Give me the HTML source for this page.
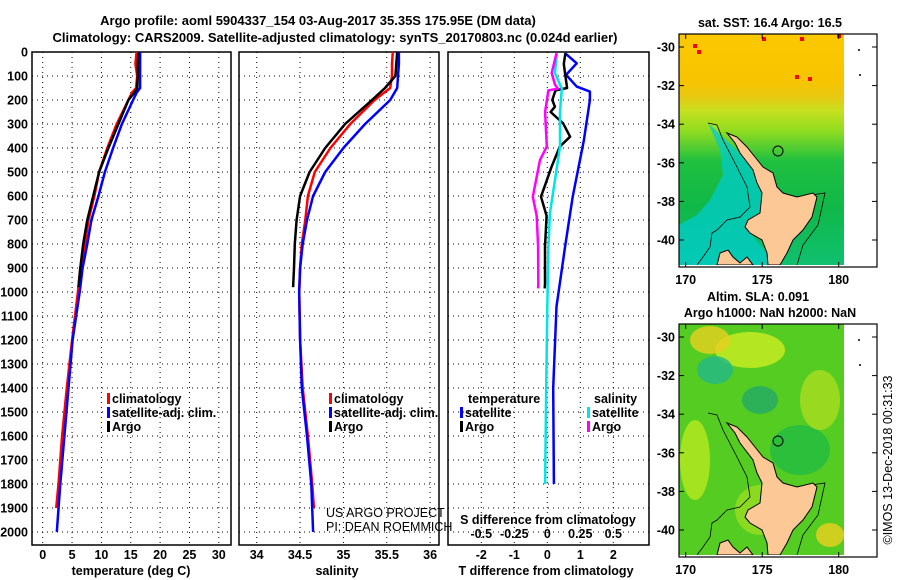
<!DOCTYPE html>
<html><head><meta charset="utf-8"><style>
html,body{margin:0;padding:0;background:#fff;}
svg{display:block;font-family:"Liberation Sans",sans-serif;}
.t{font-weight:bold;font-size:13px;fill:#000;}
.tk{font-weight:bold;font-size:12.5px;fill:#000;}
.pl{font-weight:normal;font-size:12.5px;fill:#000;}
</style></head><body>
<svg id="c" width="900" height="580" viewBox="0 0 900 580" xmlns="http://www.w3.org/2000/svg">
<text class="t" x="318" y="25" text-anchor="middle" font-size="14">Argo profile: aoml 5904337_154 03-Aug-2017 35.35S 175.95E (DM data)</text>
<text class="t" x="335" y="42" text-anchor="middle" font-size="14">Climatology: CARS2009. Satellite-adjusted climatology: synTS_20170803.nc (0.024d earlier)</text>
<g id="g"></g>
</svg>
<script>
// depth ticks
const depthTicks=[0,100,200,300,400,500,600,700,800,900,1000,1100,1200,1300,1400,1500,1600,1700,1800,1900,2000];
const tempTicks=[0,5,10,15,20,25,30];
const salTicks=[34,34.5,35,35.5,36];
const tdiffTicks=[-2,-1,0,1,2];
const sdiffTicks=[-0.5,-0.25,0,0.25,0.5];
const sdiffLabels=["-0.5","-0.25","0","0.25","0.5"];
// temperature profiles
const tClimDepth=[0,50,100,150,170,200,300,400,500,600,700,800,900,1000,1200,1400,1600,1800,1900];
const tClimVal=[16.0,15.8,16.1,15.9,15.2,14.6,12.6,11.0,9.6,8.8,7.8,7.2,6.4,6.0,5.0,4.1,3.3,2.7,2.3];
const tSatDepth=[0,50,100,150,170,200,300,400,500,600,700,800,900,1000,1200,1400,1600,1800,2000];
const tSatVal=[16.6,16.6,16.6,16.6,16.0,15.4,13.5,12.0,10.6,9.5,8.3,7.6,6.8,6.3,5.1,4.4,3.7,3.0,2.4];
const tArgoDepth=[0,50,100,150,170,200,300,400,500,600,700,800,900,980];
const tArgoVal=[16.3,16.2,16.2,16.1,15.6,14.6,12.9,11.2,9.6,8.6,7.6,6.9,6.4,6.1];
// salinity profiles
const sClimDepth=[0,50,100,150,200,300,400,500,600,700,800,900,1000,1200,1400,1600,1800,1900];
const sClimVal=[35.57,35.56,35.56,35.54,35.36,35.08,34.85,34.67,34.59,34.56,34.52,34.50,34.49,34.50,34.53,34.59,34.64,34.66];
const sSatDepth=[0,50,100,150,200,300,400,500,600,700,800,900,1000,1200,1400,1600,1800,2000];
const sSatVal=[35.64,35.64,35.63,35.62,35.54,35.25,35.00,34.79,34.65,34.58,34.53,34.50,34.49,34.50,34.52,34.58,34.63,34.65];
const sArgoDepth=[0,50,100,150,200,300,400,500,600,700,800,900,980];
const sArgoVal=[35.62,35.61,35.60,35.48,35.33,35.02,34.79,34.61,34.50,34.46,34.44,34.43,34.42];
// difference profiles
const dTSatDepth=[5,47,95,144,165,200,367,603,811,1061,1400,1800];
const dTSatVal=[0.54,0.89,0.57,0.89,1.29,1.29,1.11,0.77,0.54,0.28,0.18,0.2];
const dTArgoDepth=[5,50,100,150,160,200,228,250,297,353,394,478,603,683,811,964,985];
const dTArgoVal=[0.55,0.5,0.55,0.6,0.25,0.15,0.23,0.1,0.48,0.69,0.38,0.13,-0.19,-0.02,-0.07,-0.07,-0.08];
const dSSatDepth=[5,88,153,250,394,533,672,811,1061,1400,1800];
const dSSatVal=[0.071,0.058,0.11,0.096,0.096,0.058,0.02,0.008,0,-0.008,-0.017];
const dSArgoDepth=[5,88,136,153,160,250,394,450,603,683,811,964,985];
const dSArgoVal=[0.07,0.033,0.058,0.08,0.008,-0.017,-0.004,-0.055,-0.11,-0.08,-0.07,-0.068,-0.07];

const NS="http://www.w3.org/2000/svg";
const G=document.getElementById('g');
function mk(tag,attrs,parent){const e=document.createElementNS(NS,tag);for(const k in attrs)e.setAttribute(k,attrs[k]);(parent||G).appendChild(e);return e;}
function txt(x,y,s,cls,anchor,parent){const e=mk('text',{x:x,y:y,class:cls||'tk','text-anchor':anchor||'start'},parent);e.textContent=s;return e;}
const TOP=52,BOT=545;
function yD(d){return TOP+d*0.24;}
const P1={x0:32,x1:231,f:v=>42.7+v*5.87};
const P2={x0:239,x1:439,f:v=>256.7+(v-34)*86.7};
const P3={x0:448,x1:649,f:v=>547.3+v*33};
const sDiffX=v=>547.3+v*132;

depthTicks.forEach(d=>{
  const t=txt(28,yD(d)+4.5,String(d),'tk','end');
  
  
});
function panel(P,ticks,labels,name){
  const g=mk('g',{});
  
  
  depthTicks.forEach(d=>{
    const l=mk('line',{x1:P.x0,x2:P.x1,y1:yD(d),y2:yD(d),stroke:'#000','stroke-width':1,'stroke-dasharray':'1,4'},g);
    
    
  });
  ticks.forEach((v,i)=>{
    const x=P.f(v);
    const l=mk('line',{x1:x,x2:x,y1:TOP,y2:BOT,stroke:'#000','stroke-width':1,'stroke-dasharray':'1,4'},g);
    
    
    const t=txt(x,559,labels[i],'tk','middle',g);
    
    
  });
  const r=mk('rect',{x:P.x0,y:TOP,width:P.x1-P.x0,height:BOT-TOP,fill:'none',stroke:'#000','stroke-width':1.5},g);
  
  
  return g;
}
const g1=panel(P1,tempTicks,tempTicks.map(String),'temperature-panel');
const g2=panel(P2,salTicks,salTicks.map(String),'salinity-panel');
const g3=panel(P3,tdiffTicks,tdiffTicks.map(String),'difference-panel');
sdiffTicks.forEach((v,i)=>{
  const t=txt(sDiffX(v),538,sdiffLabels[i],'tk','middle',g3);
  
  
});
let e;
e=txt(548,524,'S difference from climatology','tk','middle',g3);
e=txt(131,575,'temperature (deg C)','tk','middle',g1);
e=txt(337,575,'salinity','tk','middle',g2);
e=txt(546,575,'T difference from climatology','tk','middle',g3);

function line(depths,vals,fx,color,g,name,w){
  const pts=depths.map((d,i)=>fx(vals[i]).toFixed(1)+','+yD(d).toFixed(1)).join(' ');
  const p=mk('polyline',{points:pts,fill:'none',stroke:color,'stroke-width':w||2.5,'stroke-linejoin':'round'},g);
  
  
}
line(tClimDepth,tClimVal,P1.f,'#ff0000',g1,'temp-climatology-line');
line(tSatDepth,tSatVal,P1.f,'#0000ff',g1,'temp-satellite-line');
line(tArgoDepth,tArgoVal,P1.f,'#000000',g1,'temp-argo-line');
line(sClimDepth,sClimVal,P2.f,'#ff0000',g2,'sal-climatology-line');
line(sSatDepth,sSatVal,P2.f,'#0000ff',g2,'sal-satellite-line');
line(sArgoDepth,sArgoVal,P2.f,'#000000',g2,'sal-argo-line');
line(dTSatDepth,dTSatVal,P3.f,'#0000ff',g3,'tdiff-satellite-line');
line(dTArgoDepth,dTArgoVal,P3.f,'#000000',g3,'tdiff-argo-line');
line(dSSatDepth,dSSatVal,sDiffX,'#00e5e5',g3,'sdiff-satellite-line');
line(dSArgoDepth,dSArgoVal,sDiffX,'#ff00ff',g3,'sdiff-argo-line');

function legend(x,y,color,label,g,name){
  const r=mk('rect',{x:x,y:y-10,width:3,height:11,fill:color},g);
  
  
  const t=txt(x+5,y,label,'tk','start',g);
  
  
}
legend(107,403,'#ff0000','climatology',g1,'legend-climatology');
legend(107,417,'#0000ff','satellite-adj. clim.',g1,'legend-satellite');
legend(107,431,'#000000','Argo',g1,'legend-argo');
legend(329,403,'#ff0000','climatology',g2,'legend-climatology');
legend(329,417,'#0000ff','satellite-adj. clim.',g2,'legend-satellite');
legend(329,431,'#000000','Argo',g2,'legend-argo');
e=txt(468,403,'temperature','tk','start',g3);
legend(460,417,'#0000ff','satellite',g3,'legend-t-satellite');
legend(460,431,'#000000','Argo',g3,'legend-t-argo');
e=txt(594,403,'salinity','tk','start',g3);
legend(587,417,'#00e5e5','satellite',g3,'legend-s-satellite');
legend(587,431,'#ff00ff','Argo',g3,'legend-s-argo');
const credit=mk('g',{});


txt(326,517,'US ARGO PROJECT','pl','start',credit);
txt(326,531,'PI: DEAN ROEMMICH','pl','start',credit);

// maps
const latTicks=[-30,-32,-34,-36,-38,-40];
const lonTicks=[170,175,180];
const landN=[[727,133],[737,137],[747,147],[755,157],[763,167],[773,173],[777,187],[783,193],[797,197],[813,193],[817,197],[812,217],[803,230],[793,240],[787,253],[780,265],[768,265],[767,253],[762,240],[750,233],[745,227],[748,220],[760,213],[762,193],[757,183],[753,170],[740,153],[735,143]];
const landS=[[717,265],[720,253],[728,250],[733,257],[740,263],[747,257],[753,265]];
const shelfW=[[708,123],[717,125],[723,140],[737,167],[747,187],[750,207],[740,217],[727,220],[717,230],[712,233],[710,247],[703,257],[697,265]];
const shelfE=[[797,197],[825,193],[818,225],[803,245],[797,265]];
function pts(a,dy){return a.map(p=>p[0]+','+(p[1]+dy)).join(' ');}
function map(dy,name,bands){
  const g=mk('g',{});
  
  
  const lonX=v=>685.7+(v-170)*15.3;
  const latY=v=>47+dy+(-30-v)*19.3;
  bands(g,dy);
  const cl=mk('clipPath',{id:'clip'+dy},g);
  mk('rect',{x:679,y:34+dy,width:165,height:231},cl);
  const lg=mk('g',{'clip-path':'url(#clip'+dy+')'},g);
  mk('polyline',{points:pts(shelfW,dy),fill:'none',stroke:'#000','stroke-width':0.8},lg);
  mk('polyline',{points:pts(shelfE,dy),fill:'none',stroke:'#000','stroke-width':0.8},lg);
  const lp=mk('polygon',{points:pts(landN,dy),fill:'#fcc896',stroke:'#000','stroke-width':1},lg);
  
  
  const ls=mk('polygon',{points:pts(landS,dy),fill:'#fcc896',stroke:'#000','stroke-width':1},lg);
  
  
  const c=mk('circle',{cx:778,cy:151+dy,r:5,fill:'none',stroke:'#000','stroke-width':1},g);
  
  
  mk('circle',{cx:859,cy:50+dy,r:1,fill:'#000'},g);
  mk('circle',{cx:860,cy:75+dy,r:1,fill:'#000'},g);
  const r=mk('rect',{x:679,y:34+dy,width:198,height:233,fill:'none',stroke:'#000','stroke-width':1.2},g);
  
  
  latTicks.forEach(v=>{
    const y=latY(v);
    mk('line',{x1:679,x2:684,y1:y,y2:y,stroke:'#000'},g);
    mk('line',{x1:872,x2:877,y1:y,y2:y,stroke:'#000'},g);
    const t=txt(675,y+4.5,String(v),'tk','end',g);
    
    
  });
  lonTicks.forEach(v=>{
    const x=lonX(v);
    mk('line',{x1:x,x2:x,y1:262+dy,y2:267+dy,stroke:'#000'},g);
    mk('line',{x1:x,x2:x,y1:34+dy,y2:39+dy,stroke:'#000'},g);
    const t=txt(x,284+dy,String(v),'tk','middle',g);
    
    
  });
}
map(0,'sst-map',(g,dy)=>{
  const d=mk('defs',{},g);
  const lg=mk('linearGradient',{id:'sstg',x1:0,y1:0,x2:0,y2:1},d);
  [[0,'#fcc800'],[0.2,'#f8c400'],[0.27,'#e8c810'],[0.33,'#c8e020'],[0.42,'#90dc20'],[0.55,'#20c040'],[0.75,'#10b848'],[1,'#10c070']].forEach(s=>mk('stop',{offset:s[0],'stop-color':s[1]},lg));
  mk('rect',{x:679,y:34+dy,width:165,height:231,fill:'url(#sstg)'},g);
  mk('polygon',{points:pts([[708,123],[740,153],[753,170],[762,193],[760,213],[750,233],[767,253],[768,265],[679,265],[679,225],[697,215],[710,200],[723,175],[720,150]],dy),fill:'#00cccc',opacity:0.75},g);
  [[693,44],[697,50],[762,37],[800,37],[837,34],[808,77],[795,75]].forEach(p=>mk('rect',{x:p[0],y:p[1]+dy,width:4,height:4,fill:'#ff0000'},g));
});
map(290,'sla-map',(g,dy)=>{
  mk('rect',{x:679,y:34+dy,width:165,height:231,fill:'#55cc22'},g);
  [[750,60,35,18,'#ccee22'],[710,50,20,14,'#e8d020'],[715,80,18,14,'#22b888'],[760,110,18,14,'#22aa66'],[830,245,14,12,'#eed020'],[695,170,15,40,'#b8e820'],[800,160,30,25,'#22bb44'],[820,110,20,30,'#aadd22'],[760,220,25,25,'#99dd22']].forEach(b=>mk('ellipse',{cx:b[0],cy:b[1]+dy,rx:b[2],ry:b[3],fill:b[4],opacity:0.8},g));
  mk('rect',{x:844,y:34+dy,width:33,height:233,fill:'#fff'},g);
});
e=txt(770,27,'sat. SST: 16.4 Argo: 16.5','tk','middle');
e=txt(758,301,'Altim. SLA: 0.091','tk','middle');
e=txt(770,317,'Argo h1000: NaN h2000: NaN','tk','middle');
e=txt(0,0,'©IMOS 13-Dec-2018 00:31:33','pl','middle');
e.setAttribute('transform','translate(892,460) rotate(-90)');

</script>
</body></html>
